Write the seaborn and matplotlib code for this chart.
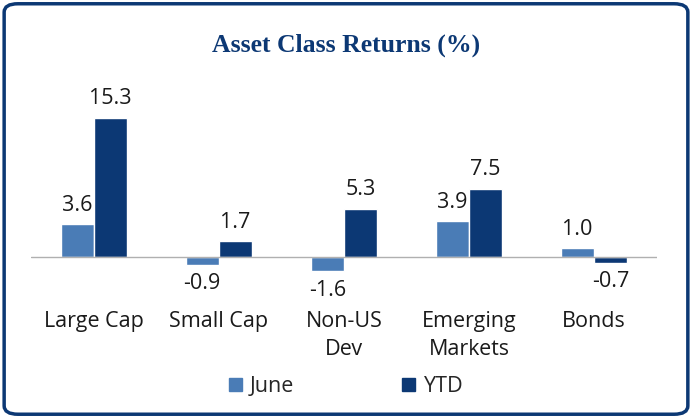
import matplotlib
matplotlib.use('Agg')
import matplotlib.pyplot as plt
from matplotlib.patches import FancyBboxPatch
import pandas as pd
import seaborn as sns

categories = ['Large Cap', 'Small Cap', 'Non-US\nDev', 'Emerging\nMarkets', 'Bonds']
june = [3.6, -0.9, -1.6, 3.9, 1.0]
ytd = [15.3, 1.7, 5.3, 7.5, -0.7]
series = ['June', 'YTD']

navy = '#0c3874'
light = '#4a7cb6'

df = pd.DataFrame({'cat': categories * 2,
                   'val': june + ytd,
                   'series': ['June'] * 5 + ['YTD'] * 5})

sns.set_style('white')
plt.rcParams['font.family'] = 'Open Sans'
fig = plt.figure(figsize=(6.92, 4.18), dpi=100)
ax = fig.add_axes([0.045, 0.318, 0.904, 0.455])

sns.barplot(data=df, x='cat', y='val', hue='series', order=categories,
            hue_order=series, palette=[light, navy], width=0.53,
            ax=ax, legend=False, saturation=1)
ax.set_xlim(-0.5, 4.5)
ax.set_ylim(-3.1, 17.8)
ax.axhline(0, color='#b0b0b0', lw=1)
for s in ax.spines.values():
    s.set_visible(False)
ax.set_xticks([]); ax.set_yticks([])
ax.set_xlabel(''); ax.set_ylabel('')

for cont in ax.containers:
    for bar in cont:
        v = bar.get_height()
        x = bar.get_x() + bar.get_width() / 2
        off = 0.9 if v >= 0 else -0.9
        ax.text(x, v + off, f'{v:.1f}', ha='center',
                va='bottom' if v >= 0 else 'top', fontsize=15.5, color='#1a1a1a')

for i, c in enumerate(categories):
    ax.text(i, -5.9, c, ha='center', va='top', fontsize=15.5,
            color='#1a1a1a', linespacing=1.45, clip_on=False)

fig.text(0.5, 0.892, 'Asset Class Returns (%)', ha='center', va='center',
         fontsize=18.5, fontweight='bold', family='Liberation Serif', color=navy)

handles = [plt.Rectangle((0, 0), 1, 1, color=light), plt.Rectangle((0, 0), 1, 1, color=navy)]
fig.legend(handles, series, loc='center', bbox_to_anchor=(0.5, 0.075), ncol=2,
           frameon=False, fontsize=15.5, handlelength=0.6, handleheight=0.6,
           columnspacing=5, handletextpad=0.4)

fig.patches.append(FancyBboxPatch((0.006, 0.009), 0.988, 0.982,
                                  boxstyle='round,pad=0,rounding_size=0.02',
                                  transform=fig.transFigure, fill=False,
                                  ec=navy, lw=2.5))
fig.savefig('out.png', dpi=100)
